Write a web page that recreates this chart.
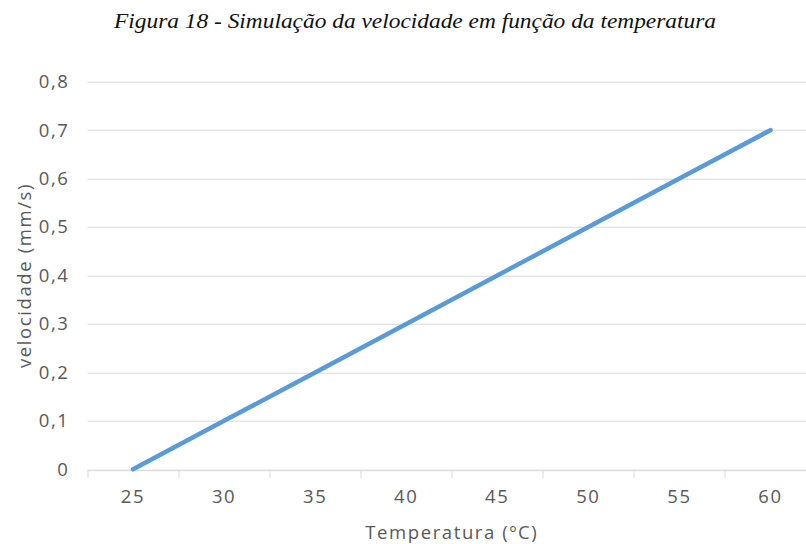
<!DOCTYPE html>
<html>
<head>
<meta charset="utf-8">
<script src="https://cdn.jsdelivr.net/npm/d3@7"></script>
<style>
  body { margin: 0; background: #fff; }
  svg { display: block; }
  .tick-label { font-family: "Open Sans", sans-serif; font-size: 18.5px; fill: #595959; letter-spacing: 1.6px; }
  .axis-title { font-family: "Open Sans", sans-serif; font-size: 18.5px; fill: #595959; letter-spacing: 1.6px; }
  .fig-title { font-family: "Liberation Serif", "Times New Roman", serif; font-style: italic; font-size: 21.5px; fill: #111; }
</style>
</head>
<body>
<div id="chart-area"></div>
<script>
// dados
const temperaturas = [25, 30, 35, 40, 45, 50, 55, 60];
const velocidades = [0, 0.1, 0.2, 0.3, 0.4, 0.5, 0.6, 0.7];
const yTicks = [0, 0.1, 0.2, 0.3, 0.4, 0.5, 0.6, 0.7, 0.8];
const yTickLabels = ["0", "0,1", "0,2", "0,3", "0,4", "0,5", "0,6", "0,7", "0,8"];

const titulo = "Figura 18 - Simulação da velocidade em função da temperatura";
const xTitulo = "Temperatura (ºC)";
const yTitulo = "velocidade (mm/s)";

// margens
let W = 806, H = 544;
let margin = { top: 81.7, left: 87.5 },
  plotW = 728.5,
  plotH = 387.6;

let svg = d3
  .select("#chart-area")
  .append("svg")
  .attr("width", W)
  .attr("height", H);

// titulo da figura
svg
  .append("text")
  .attr("class", "fig-title")
  .attr("x", 114)
  .attr("y", 28)
  .attr("textLength", 602)
  .attr("lengthAdjust", "spacingAndGlyphs")
  .text(titulo);

let g = svg
  .append("g")
  .attr("transform", "translate(" + margin.left + "," + margin.top + ")");

// escalas
let xScale = d3
  .scaleBand()
  .domain(temperaturas)
  .range([0, plotW]);

let yScale = d3
  .scaleLinear()
  .domain([0, 0.8])
  .range([plotH, 0]);

// linhas de grade
g.selectAll(".grid")
  .data(yTicks)
  .enter()
  .append("line")
  .attr("class", "grid")
  .attr("x1", 0)
  .attr("x2", plotW)
  .attr("y1", d => Math.round(yScale(d)) + 0.5)
  .attr("y2", d => Math.round(yScale(d)) + 0.5)
  .attr("stroke", "#d9d9d9")
  .attr("stroke-width", 1);

// eixo X
let xAxis = d3
  .axisBottom(xScale)
  .tickSize(0)
  .tickPadding(20)
  .tickFormat(d => d);

let xg = g
  .append("g")
  .attr("transform", "translate(0," + (Math.round(plotH) + 0.5) + ")")
  .call(xAxis);
xg.select(".domain").attr("stroke", "#d9d9d9");
xg.selectAll("text").attr("class", "tick-label").attr("fill", null);

// marcas entre categorias
let bounds = temperaturas.map(d => xScale(d)).concat([plotW]);
xg.selectAll(".sep")
  .data(bounds)
  .enter()
  .append("line")
  .attr("class", "sep")
  .attr("x1", d => Math.round(d) + 0.5)
  .attr("x2", d => Math.round(d) + 0.5)
  .attr("y1", 0)
  .attr("y2", 8)
  .attr("stroke", "#d9d9d9");

// eixo Y (so rotulos)
let yAxis = d3
  .axisLeft(yScale)
  .tickValues(yTicks)
  .tickSize(0)
  .tickPadding(18)
  .tickFormat((d, i) => yTickLabels[i]);

let yg = g.append("g").call(yAxis);
yg.select(".domain").remove();
yg.selectAll("text").attr("class", "tick-label").attr("fill", null);

// linha da serie
let line = d3
  .line()
  .x((d, i) => xScale(temperaturas[i]) + xScale.bandwidth() / 2)
  .y(d => yScale(d));

g.append("path")
  .datum(velocidades)
  .attr("d", line)
  .attr("fill", "none")
  .attr("stroke", "#5b9bd5")
  .attr("stroke-width", 4.5)
  .attr("stroke-linecap", "round")
  .attr("stroke-linejoin", "round");

// titulos dos eixos
svg
  .append("text")
  .attr("class", "axis-title")
  .attr("x", margin.left + plotW / 2)
  .attr("y", 539)
  .attr("text-anchor", "middle")
  .text(xTitulo);

svg
  .append("text")
  .attr("class", "axis-title")
  .attr("transform", "translate(31," + (margin.top + plotH / 2) + ") rotate(-90)")
  .attr("text-anchor", "middle")
  .text(yTitulo);
</script>
</body>
</html>
